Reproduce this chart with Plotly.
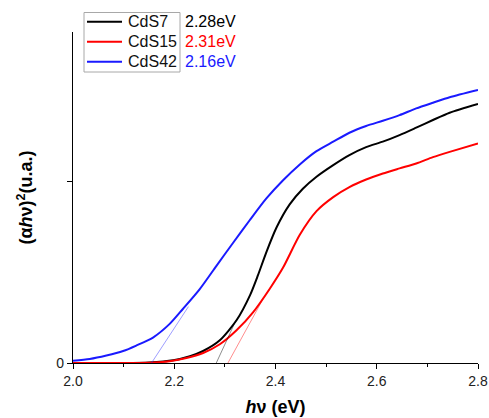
import plotly.graph_objects as go

# ---------------- data ----------------
names = ["CdS7", "CdS15", "CdS42"]
gap_labels = ["2.28eV", "2.31eV", "2.16eV"]
colors = ["#000000", "#ff0000", "#1a1aff"]
tangent_colors = ["rgba(0,0,0,0.45)", "rgba(255,0,0,0.45)", "rgba(40,40,255,0.45)"]

e_cds7 = [2.0, 2.1, 2.15, 2.198, 2.231, 2.257, 2.29, 2.323, 2.35, 2.365, 2.382,
          2.402, 2.428, 2.454, 2.481, 2.514, 2.546, 2.579, 2.612, 2.645, 2.678,
          2.711, 2.744, 2.8]
v_cds7 = [0.0, 0.0, 0.003, 0.015, 0.037, 0.066, 0.125, 0.235, 0.375, 0.48, 0.61,
          0.745, 0.872, 0.958, 1.024, 1.088, 1.143, 1.187, 1.217, 1.253, 1.294,
          1.336, 1.376, 1.424]

e_cds15 = [2.0, 2.1, 2.16, 2.191, 2.224, 2.257, 2.29, 2.323, 2.356, 2.389, 2.415,
           2.448, 2.481, 2.514, 2.546, 2.579, 2.612, 2.645, 2.678, 2.711, 2.744, 2.8]
v_cds15 = [0.0, 0.0, 0.003, 0.01, 0.027, 0.055, 0.103, 0.18, 0.28, 0.41, 0.525,
           0.705, 0.835, 0.912, 0.967, 1.009, 1.042, 1.07, 1.097, 1.132, 1.161, 1.207]

e_cds42 = [2.0, 2.033, 2.066, 2.099, 2.125, 2.158, 2.191, 2.217, 2.25, 2.283, 2.316,
           2.349, 2.382, 2.415, 2.448, 2.481, 2.514, 2.546, 2.579, 2.612, 2.645,
           2.678, 2.711, 2.744, 2.8]
v_cds42 = [0.013, 0.022, 0.041, 0.066, 0.096, 0.14, 0.215, 0.297, 0.405, 0.533, 0.66,
           0.785, 0.905, 1.005, 1.092, 1.165, 1.217, 1.266, 1.303, 1.332, 1.363,
           1.40, 1.431, 1.461, 1.501]

# tangent (Tauc extrapolation) lines: start on the axis, end on the curve
tan_e = [[2.283, 2.322], [2.306, 2.375], [2.155, 2.228]]
tan_v = [[0.0, 0.235], [0.0, 0.35], [0.0, 0.31]]

x_ticks = [2.0, 2.2, 2.4, 2.6, 2.8]
x_tick_text = ["2.0", "2.2", "2.4", "2.6", "2.8"]
y_ticks = [0]
y_tick_text = ["0"]
y_minor_ticks = [1]

series_e = [e_cds7, e_cds15, e_cds42]
series_v = [v_cds7, v_cds15, v_cds42]

FONT = "Arial, 'Liberation Sans', sans-serif"

W, H = 489, 418
ML, MR, MT, MB = 73, 11, 32, 55
PW, PH = W - ML - MR, H - MT - MB


def px(xp):
    return (xp - ML) / PW


def py(yp):
    return (H - MB - yp) / PH


fig = go.Figure()
for i in range(3):
    fig.add_trace(go.Scatter(
        x=series_e[i], y=series_v[i], mode="lines", name=names[i],
        line=dict(color=colors[i], width=2, shape="spline", smoothing=0.7),
        showlegend=False,
    ))
for i in range(3):
    fig.add_trace(go.Scatter(
        x=tan_e[i], y=tan_v[i], mode="lines", showlegend=False,
        line=dict(color=tangent_colors[i], width=1),
    ))

# legend box (drawn in paper coordinates) with line samples, names and band gaps
fig.add_shape(type="rect", xref="paper", yref="paper",
              x0=px(84), x1=px(180), y0=py(72), y1=py(12.5),
              line=dict(color="#a8a8a8", width=1), fillcolor="white", layer="above")
row_y = [21.7, 41.7, 61.7]
for i in range(3):
    fig.add_shape(type="line", xref="paper", yref="paper",
                  x0=px(87), x1=px(122), y0=py(row_y[i]), y1=py(row_y[i]),
                  line=dict(color=colors[i], width=2), layer="above")
    fig.add_annotation(
        x=px(126), y=py(row_y[i]), xref="paper", yref="paper",
        text=names[i], showarrow=False, xanchor="left", yanchor="middle",
        font=dict(family=FONT, size=16, color="#111"),
    )
    fig.add_annotation(
        x=px(183), y=py(row_y[i]), xref="paper", yref="paper",
        text=gap_labels[i], showarrow=False, xanchor="left", yanchor="middle",
        font=dict(family=FONT, size=16, color=colors[i]),
    )

fig.update_layout(
    width=W, height=H,
    margin=dict(l=ML, r=MR, t=MT, b=MB, autoexpand=False),
    plot_bgcolor="white", paper_bgcolor="white",
    font=dict(family=FONT, color="#222"),
    showlegend=False,
    xaxis=dict(
        range=[2.0, 2.8], tickvals=x_ticks, ticktext=x_tick_text, automargin=False,
        showline=True, linecolor="black", linewidth=1.3, mirror=False,
        ticks="outside", ticklen=5, tickwidth=1, tickcolor="black",
        minor=dict(dtick=0.1, ticks="outside", ticklen=3, tickcolor="black", showgrid=False),
        showgrid=False, zeroline=False,
        tickfont=dict(family=FONT, size=14, color="#222"),
        title=dict(text="<b><i>h</i>ν (eV)</b>", font=dict(family=FONT, size=18, color="#000"), standoff=12),
    ),
    yaxis=dict(
        range=[0, 1.82], tickvals=y_ticks, ticktext=y_tick_text, automargin=False,
        showline=True, linecolor="black", linewidth=1.3, mirror=False,
        ticks="outside", ticklen=5, tickwidth=1, tickcolor="black",
        minor=dict(tickvals=y_minor_ticks, ticks="outside", ticklen=5, tickcolor="black", showgrid=False),
        showgrid=False, zeroline=False,
        tickfont=dict(family=FONT, size=14, color="#222"),
        title=dict(text="<b>(α<i>h</i>ν)<sup>2</sup>(u.a.)</b>", font=dict(family=FONT, size=18, color="#000"), standoff=18),
    ),
)

fig.write_html("out.html")
